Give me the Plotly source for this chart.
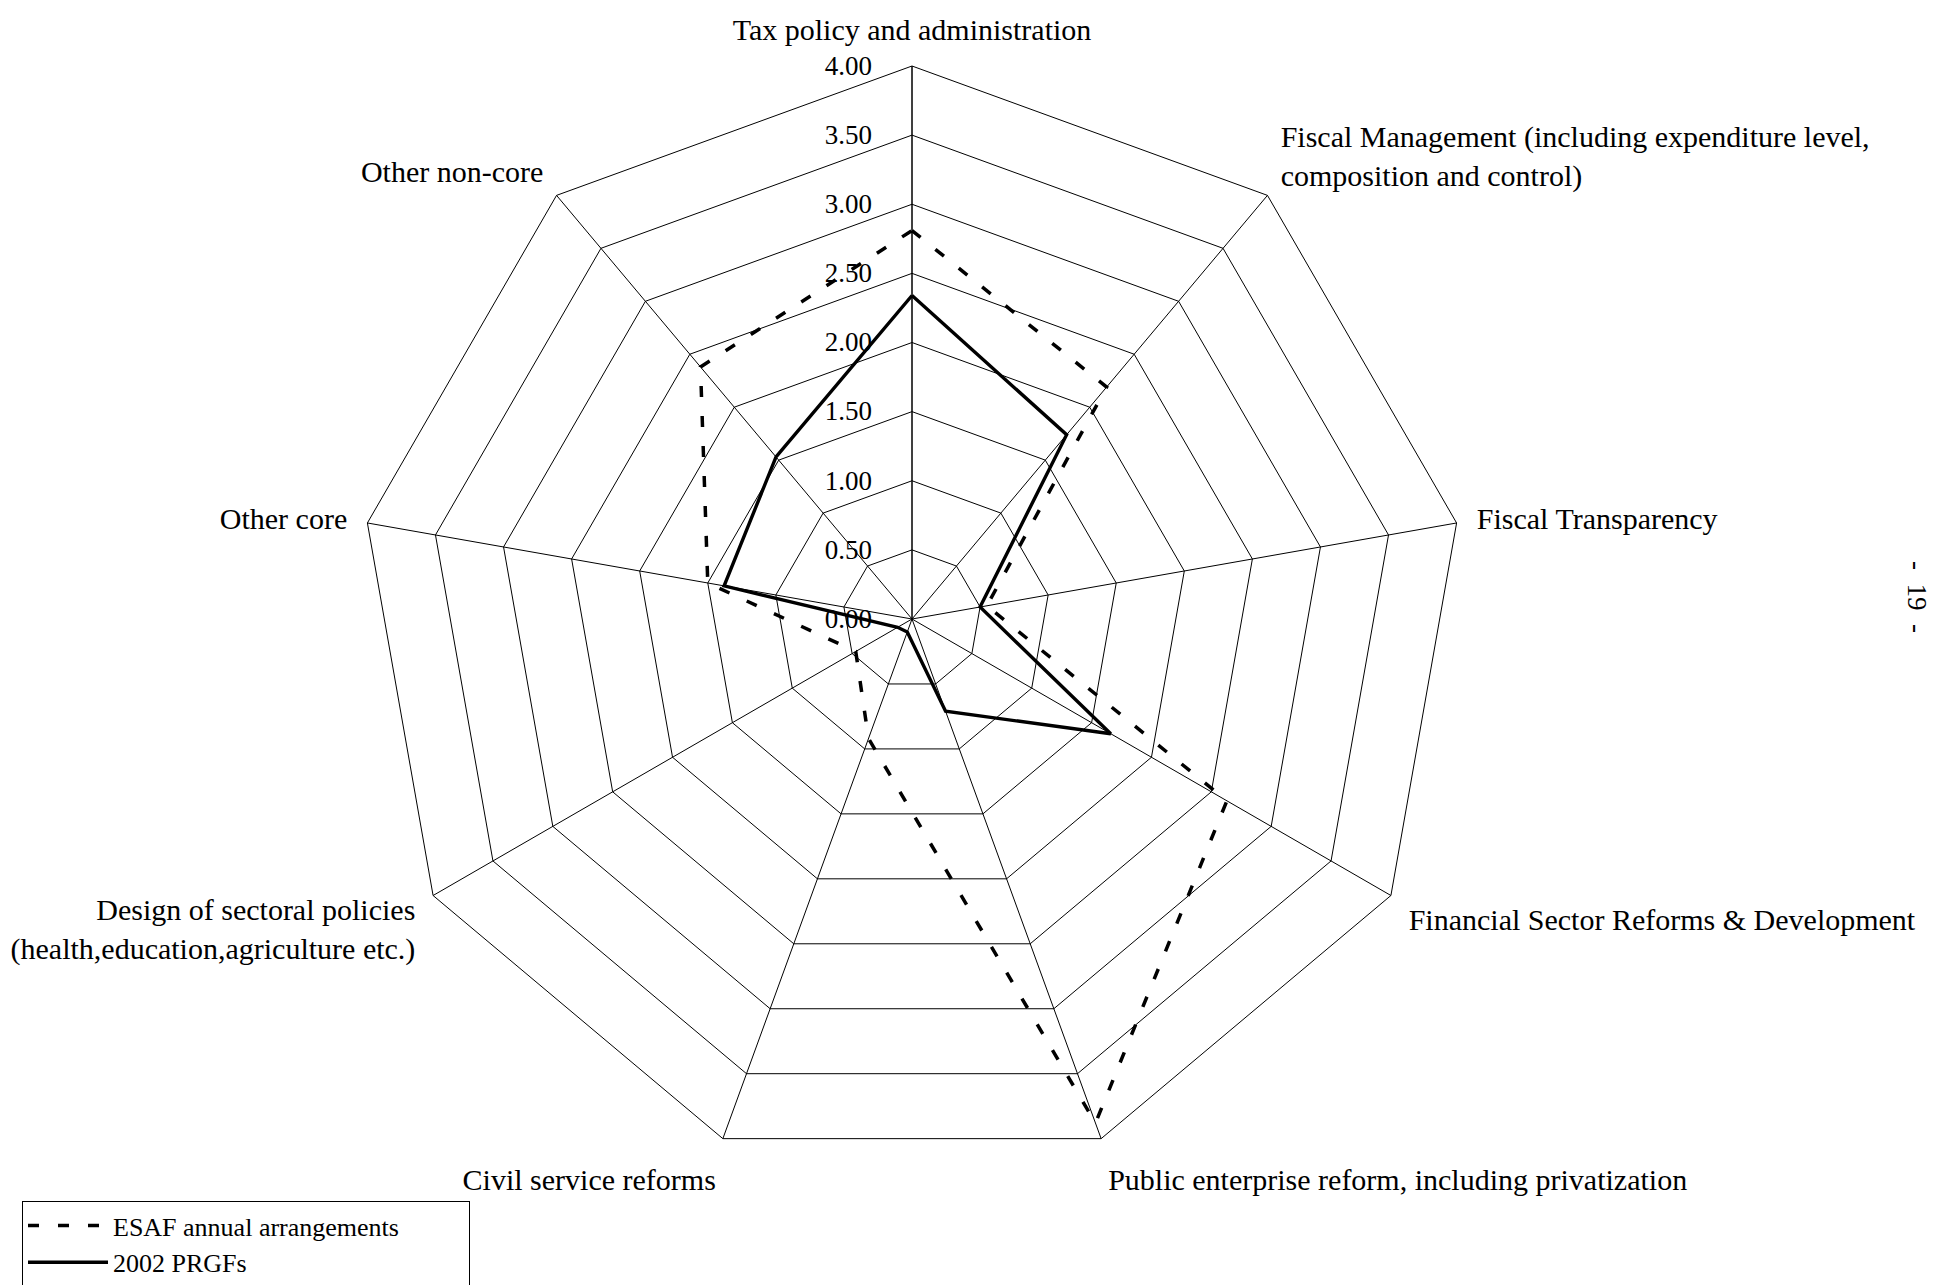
import plotly.graph_objects as go

# Radar chart: conditionality by area, ESAF annual arrangements vs 2002 PRGFs
categories = [
    "Tax policy and administration",
    "Fiscal Management (including expenditure level,<br>composition and control)",
    "Fiscal Transparency",
    "Financial Sector Reforms &amp; Development",
    "Public enterprise reform, including privatization",
    "Civil service reforms",
    "Design of sectoral policies<br>(health,education,agriculture etc.)",
    "Other core",
    "Other non-core",
]

esaf_values = [2.81, 2.19, 0.55, 2.63, 3.88, 0.92, 0.47, 1.50, 2.38]
prgf_values = [2.34, 1.74, 0.50, 1.66, 0.71, 0.10, 0.12, 1.38, 1.53]

radial_ticks = [0.0, 0.5, 1.0, 1.5, 2.0, 2.5, 3.0, 3.5, 4.0]

series_names = ["ESAF annual arrangements", "2002 PRGFs"]

W, H = 1935, 1285
CX, CY, R = 912, 619, 553

FONT = "Liberation Serif, Times New Roman, serif"
NBSP = "\u00a0"


def closed(vals):
    return vals + vals[:1]


fig = go.Figure()
fig.add_trace(go.Scatterpolar(
    r=closed(esaf_values),
    theta=closed(categories),
    mode="lines",
    name=series_names[0] + NBSP * 10,
    legendgroup="esaf",
    line=dict(color="black", width=3.5, dash="11px,19px"),
))
fig.add_trace(go.Scatterpolar(
    r=closed(prgf_values),
    theta=closed(categories),
    mode="lines",
    name=series_names[1],
    legendgroup="prgf",
    line=dict(color="black", width=3.4),
))

fig.update_layout(
    width=W,
    height=H,
    margin=dict(l=0, r=0, t=0, b=0, autoexpand=False),
    paper_bgcolor="white",
    plot_bgcolor="white",
    font=dict(family=FONT, size=30, color="black"),
    polar=dict(
        domain=dict(
            x=[(CX - R) / W, (CX + R) / W],
            y=[(H - CY - R) / H, (H - CY + R) / H],
        ),
        bgcolor="white",
        gridshape="linear",
        angularaxis=dict(
            type="category",
            direction="clockwise",
            rotation=90,
            showline=True,
            linecolor="black",
            linewidth=1,
            showgrid=True,
            gridcolor="black",
            gridwidth=1,
            ticks="outside",
            ticklen=14,
            tickcolor="rgba(0,0,0,0)",
            tickfont=dict(family=FONT, size=30, color="black"),
        ),
        radialaxis=dict(
            range=[0, 4],
            tickvals=radial_ticks,
            tickformat=".2f",
            angle=90,
            side="counterclockwise",
            showline=True,
            linecolor="black",
            linewidth=1,
            showgrid=True,
            gridcolor="black",
            gridwidth=1,
            ticks="outside",
            ticklen=30,
            tickcolor="rgba(0,0,0,0)",
            tickangle=90,
            tickfont=dict(family=FONT, size=27, color="black"),
        ),
    ),
    legend=dict(
        x=22 / W,
        y=(H - 1201) / H,
        xanchor="left",
        yanchor="top",
        bordercolor="black",
        borderwidth=1,
        bgcolor="white",
        itemwidth=80,
        tracegroupgap=0,
        font=dict(family=FONT, size=26, color="black"),
    ),
    showlegend=True,
)

# page number printed sideways on the right margin
fig.add_annotation(
    x=1934 / W, y=(H - 597) / H,
    xref="paper", yref="paper",
    text="-" + NBSP * 2 + "19" + NBSP * 2 + "-",
    textangle=90,
    showarrow=False,
    font=dict(family=FONT, size=27, color="black"),
)

fig.write_html("out.html")
